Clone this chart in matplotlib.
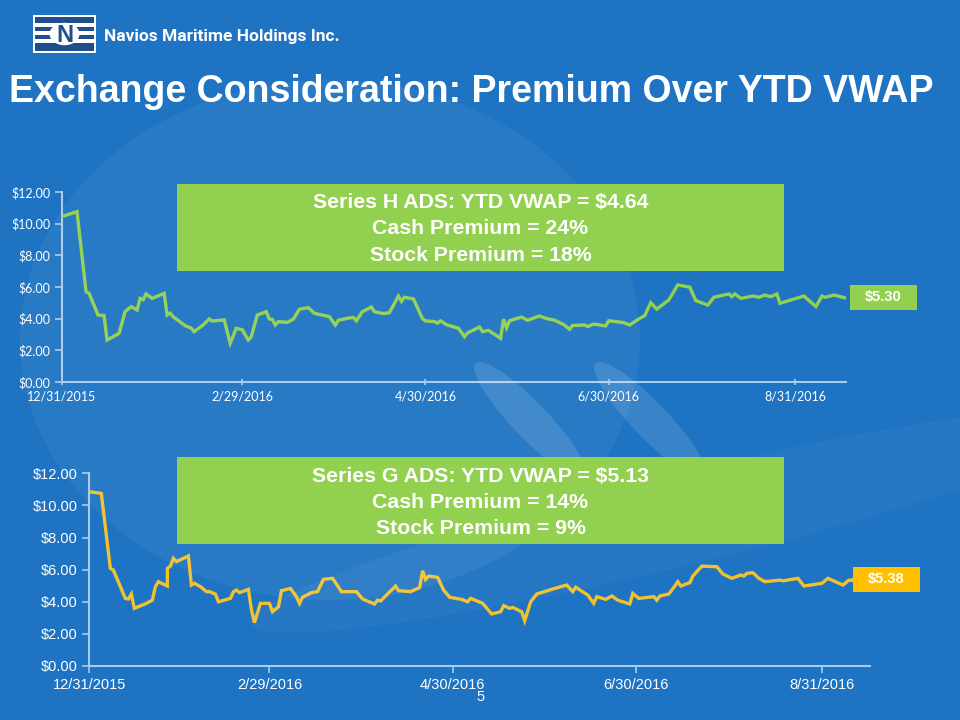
import numpy as np
import pandas as pd
import matplotlib
matplotlib.use("Agg")
import matplotlib.pyplot as plt
from matplotlib.patches import Rectangle, Ellipse, Circle

# Series H ADS closing prices
h_dates = ["2015-12-31", "2016-01-05", "2016-01-08", "2016-01-09", "2016-01-12", "2016-01-14",
           "2016-01-15", "2016-01-19", "2016-01-21", "2016-01-23", "2016-01-25", "2016-01-26",
           "2016-01-27", "2016-01-28", "2016-01-30", "2016-02-03", "2016-02-04", "2016-02-05",
           "2016-02-06", "2016-02-10", "2016-02-12", "2016-02-13", "2016-02-16", "2016-02-18",
           "2016-02-19", "2016-02-23", "2016-02-25", "2016-02-27", "2016-02-29", "2016-03-02",
           "2016-03-03", "2016-03-05", "2016-03-08", "2016-03-09", "2016-03-10", "2016-03-11",
           "2016-03-12", "2016-03-15", "2016-03-17", "2016-03-19", "2016-03-22", "2016-03-24",
           "2016-03-29", "2016-03-31", "2016-04-01", "2016-04-04", "2016-04-06", "2016-04-07",
           "2016-04-09", "2016-04-12", "2016-04-13", "2016-04-16", "2016-04-18", "2016-04-21",
           "2016-04-22", "2016-04-23", "2016-04-26", "2016-04-29", "2016-04-30", "2016-05-03",
           "2016-05-04", "2016-05-05", "2016-05-07", "2016-05-11", "2016-05-13", "2016-05-14",
           "2016-05-18", "2016-05-19", "2016-05-21", "2016-05-25", "2016-05-26", "2016-05-27",
           "2016-05-28", "2016-06-01", "2016-06-03", "2016-06-07", "2016-06-09", "2016-06-12",
           "2016-06-15", "2016-06-17", "2016-06-18", "2016-06-22", "2016-06-23", "2016-06-25",
           "2016-06-29", "2016-06-30", "2016-07-05", "2016-07-07", "2016-07-10", "2016-07-12",
           "2016-07-14", "2016-07-16", "2016-07-20", "2016-07-23", "2016-07-27", "2016-07-29",
           "2016-08-02", "2016-08-04", "2016-08-09", "2016-08-10", "2016-08-11", "2016-08-13",
           "2016-08-17", "2016-08-19", "2016-08-21", "2016-08-23", "2016-08-25", "2016-08-26",
           "2016-09-03", "2016-09-07", "2016-09-09", "2016-09-10", "2016-09-13", "2016-09-17"]
h_prices = [10.45, 10.76, 5.70, 5.60, 4.23, 4.20,
            2.65, 3.07, 4.44, 4.76, 4.55, 5.28,
            5.20, 5.56, 5.28, 5.60, 4.23, 4.35,
            4.12, 3.56, 3.40, 3.18, 3.60, 3.98,
            3.85, 3.92, 2.44, 3.39, 3.30, 2.65,
            2.86, 4.23, 4.44, 3.98, 3.96, 3.60,
            3.81, 3.77, 3.96, 4.59, 4.70, 4.34,
            4.13, 3.60, 3.90, 4.02, 4.08, 3.87,
            4.44, 4.74, 4.44, 4.32, 4.38, 5.43,
            5.10, 5.35, 5.25, 4.00, 3.86, 3.81,
            3.72, 3.86, 3.62, 3.39, 2.86, 3.10,
            3.47, 3.18, 3.26, 2.76, 3.97, 3.42,
            3.87, 4.10, 3.90, 4.17, 4.02, 3.90,
            3.63, 3.33, 3.57, 3.60, 3.50, 3.66,
            3.54, 3.87, 3.75, 3.60, 3.98, 4.19,
            5.01, 4.60, 5.18, 6.13, 5.99, 5.14,
            4.86, 5.35, 5.56, 5.39, 5.56, 5.28,
            5.43, 5.35, 5.49, 5.39, 5.56, 4.97,
            5.43, 4.76, 5.43, 5.35, 5.49, 5.30]

# Series G ADS closing prices
g_dates = ["2015-12-31", "2016-01-04", "2016-01-07", "2016-01-08", "2016-01-12", "2016-01-13",
           "2016-01-14", "2016-01-15", "2016-01-19", "2016-01-21", "2016-01-22", "2016-01-23",
           "2016-01-26", "2016-01-26", "2016-01-27", "2016-01-28", "2016-01-29", "2016-02-02",
           "2016-02-03", "2016-02-04", "2016-02-06", "2016-02-08", "2016-02-09", "2016-02-11",
           "2016-02-12", "2016-02-16", "2016-02-17", "2016-02-18", "2016-02-19", "2016-02-22",
           "2016-02-23", "2016-02-24", "2016-02-26", "2016-02-29", "2016-03-01", "2016-03-03",
           "2016-03-04", "2016-03-07", "2016-03-09", "2016-03-10", "2016-03-11", "2016-03-14",
           "2016-03-16", "2016-03-18", "2016-03-21", "2016-03-24", "2016-03-29", "2016-03-31",
           "2016-04-04", "2016-04-05", "2016-04-06", "2016-04-11", "2016-04-12", "2016-04-16",
           "2016-04-19", "2016-04-20", "2016-04-21", "2016-04-22", "2016-04-25", "2016-04-27",
           "2016-04-29", "2016-05-03", "2016-05-05", "2016-05-06", "2016-05-10", "2016-05-13",
           "2016-05-16", "2016-05-17", "2016-05-19", "2016-05-20", "2016-05-23", "2016-05-24",
           "2016-05-26", "2016-05-28", "2016-06-03", "2016-06-07", "2016-06-09", "2016-06-10",
           "2016-06-14", "2016-06-16", "2016-06-17", "2016-06-20", "2016-06-22", "2016-06-24",
           "2016-06-28", "2016-06-29", "2016-07-01", "2016-07-06", "2016-07-07", "2016-07-08",
           "2016-07-11", "2016-07-13", "2016-07-14", "2016-07-15", "2016-07-18", "2016-07-19",
           "2016-07-20", "2016-07-22", "2016-07-27", "2016-07-29", "2016-08-01", "2016-08-04",
           "2016-08-05", "2016-08-06", "2016-08-08", "2016-08-10", "2016-08-12", "2016-08-17",
           "2016-08-18", "2016-08-23", "2016-08-25", "2016-08-31", "2016-09-02", "2016-09-07",
           "2016-09-09", "2016-09-10", "2016-09-11", "2016-09-14"]
g_prices = [10.85, 10.75, 6.08, 5.98, 4.21, 4.17,
            4.48, 3.59, 3.90, 4.10, 4.94, 5.25,
            4.98, 6.08, 6.22, 6.70, 6.50, 6.85,
            5.04, 5.15, 4.94, 4.63, 4.63, 4.48,
            4.00, 4.21, 4.63, 4.73, 4.57, 4.77,
            3.49, 2.70, 3.90, 3.90, 3.38, 3.69,
            4.69, 4.83, 4.31, 3.90, 4.28, 4.57,
            4.63, 5.40, 5.46, 4.63, 4.63, 4.17,
            3.86, 4.10, 4.05, 4.98, 4.69, 4.63,
            4.88, 5.93, 5.39, 5.60, 5.52, 4.73,
            4.28, 4.15, 4.00, 4.21, 3.90, 3.24,
            3.38, 3.76, 3.59, 3.65, 3.38, 2.82,
            4.00, 4.48, 4.83, 5.04, 4.63, 4.90,
            4.42, 3.90, 4.32, 4.15, 4.36, 4.10,
            3.86, 4.52, 4.21, 4.32, 4.10, 4.36,
            4.48, 4.98, 5.25, 4.98, 5.19, 5.60,
            5.81, 6.22, 6.18, 5.73, 5.46, 5.67,
            5.60, 5.77, 5.81, 5.46, 5.25, 5.35,
            5.30, 5.46, 4.98, 5.15, 5.46, 5.04,
            5.35, 5.33, 5.52, 5.38]

tick_dates = ["2015-12-31", "2016-02-29", "2016-04-30", "2016-06-30", "2016-08-31"]
h_text = ["Series H ADS: YTD VWAP = $4.64", "Cash Premium = 24%", "Stock Premium = 18%"]
g_text = ["Series G ADS: YTD VWAP = $5.13", "Cash Premium = 14%", "Stock Premium = 9%"]
h_last = "$5.30"
g_last = "$5.38"

BG = "#1E73C2"
GREEN = "#92D050"
GOLD = "#F2C12E"
ORANGE = "#FFC000"
AXIS = "#A8CCEE"

W, H = 960, 720
fig = plt.figure(figsize=(9.6, 7.2), dpi=100)
fig.patch.set_facecolor(BG)


def fx(px):
    return px / W


def fy(py):
    return 1 - py / H


def fig_rect(x0, y0, x1, y1, color, alpha=1.0, z=1):
    r = Rectangle((fx(x0), fy(y1)), fx(x1 - x0), (y1 - y0) / H, transform=fig.transFigure,
                  facecolor=color, edgecolor="none", alpha=alpha, zorder=z)
    fig.patches.append(r)
    return r


# soft background shapes
fig.patches.append(Ellipse((fx(330), fy(340)), 620 / W, 520 / H, transform=fig.transFigure,
                           facecolor="white", alpha=0.05, edgecolor="none", zorder=0))
fig.patches.append(Ellipse((fx(680), fy(520)), 900 / W, 90 / H, angle=18, transform=fig.transFigure,
                           facecolor="white", alpha=0.04, edgecolor="none", zorder=0))
for cx, cy in [(530, 420), (650, 420)]:
    fig.patches.append(Ellipse((fx(cx), fy(cy)), 40 / W, 140 / H, angle=35, transform=fig.transFigure,
                               facecolor="white", alpha=0.12, edgecolor="none", zorder=0))

# logo
fig_rect(33, 15, 96, 53, "white", z=2)
fig_rect(35, 17, 94, 51, "#1F4E8C", z=2)
for yy in [23, 31, 39]:
    fig_rect(35, yy, 94, yy + 3.5, "white", z=3)
fig.patches.append(Circle((fx(64.5), fy(34)), 15 / W, transform=fig.transFigure,
                          facecolor="white", edgecolor="none", zorder=4))
fig.text(fx(64.5), fy(35), "N", color="#1F4E8C", fontsize=17, fontweight="bold",
         ha="center", va="center", family="Liberation Sans", zorder=5)
fig.text(fx(104), fy(37), "Navios Maritime Holdings Inc.", color="white", fontsize=12.5,
         fontweight="bold", ha="left", va="center", family="Roboto")

fig.text(fx(9), fy(92), "Exchange Consideration: Premium Over YTD VWAP", color="white",
         fontsize=27, fontweight="bold", ha="left", va="center", family="Liberation Sans")


def make_chart(rect, dates, prices, color, tick_font, tick_size, end_date, tick_dir):
    ax = fig.add_axes(rect)
    ax.set_facecolor("none")
    d = pd.to_datetime(dates)
    ax.plot(d, prices, color=color, lw=2.4, solid_joinstyle="miter", zorder=3)
    ax.set_ylim(0, 12)
    ax.set_yticks(np.arange(0, 13, 2))
    ax.yaxis.set_major_formatter(plt.FuncFormatter(lambda v, p: f"${v:.2f}"))
    ax.set_xlim(pd.Timestamp("2015-12-31"), pd.Timestamp(end_date))
    ax.set_xticks(pd.to_datetime(tick_dates))
    ax.set_xticklabels([f"{t.month}/{t.day}/{t.year}" for t in pd.to_datetime(tick_dates)])
    for s in ["top", "right"]:
        ax.spines[s].set_visible(False)
    for s in ["left", "bottom"]:
        ax.spines[s].set_color(AXIS)
        ax.spines[s].set_linewidth(1.5)
    ax.tick_params(axis="y", colors=AXIS, labelcolor="white", length=5, width=1.2, direction="out")
    ax.tick_params(axis="x", colors=AXIS, labelcolor="white", length=5, width=1.2, direction=tick_dir)
    for lab in ax.get_xticklabels() + ax.get_yticklabels():
        lab.set_family(tick_font)
        lab.set_fontsize(tick_size)
    return ax


ax1 = make_chart([fx(62), fy(382), fx(846) - fx(62), 190 / H], h_dates, h_prices, GREEN,
                 "Lato", 9, "2016-09-17", "inout")
ax2 = make_chart([fx(89.3), fy(666), fx(870) - fx(89.3), 192.7 / H], g_dates, g_prices, GOLD,
                 "Liberation Sans", 10.5, "2016-09-16", "out")


def info_box(x0, y0, x1, y1, lines):
    fig_rect(x0, y0, x1, y1, GREEN, z=5)
    cx = (x0 + x1) / 2
    for i, line in enumerate(lines):
        fig.text(fx(cx), fy(y0 + 19 + 26 * i), line, color="white", fontsize=15.3,
                 fontweight="bold", ha="center", va="center", family="Liberation Sans", zorder=6)


info_box(177, 184, 784, 271, h_text)
info_box(177, 457, 784, 544, g_text)


def value_tag(x0, y0, x1, y1, text, color):
    fig_rect(x0, y0, x1, y1, color, z=5)
    fig.text(fx((x0 + x1) / 2), fy((y0 + y1) / 2), text, color="white", fontsize=10.5,
             fontweight="bold", ha="center", va="center", family="Liberation Sans", zorder=6)


value_tag(850, 285, 917, 310, h_last, GREEN)
value_tag(853, 567, 920, 592, g_last, ORANGE)

fig.text(fx(481), fy(697), "5", color="white", fontsize=10.5, ha="center", va="center",
         family="Liberation Sans")

fig.savefig("out.png", dpi=100, facecolor=fig.get_facecolor())
